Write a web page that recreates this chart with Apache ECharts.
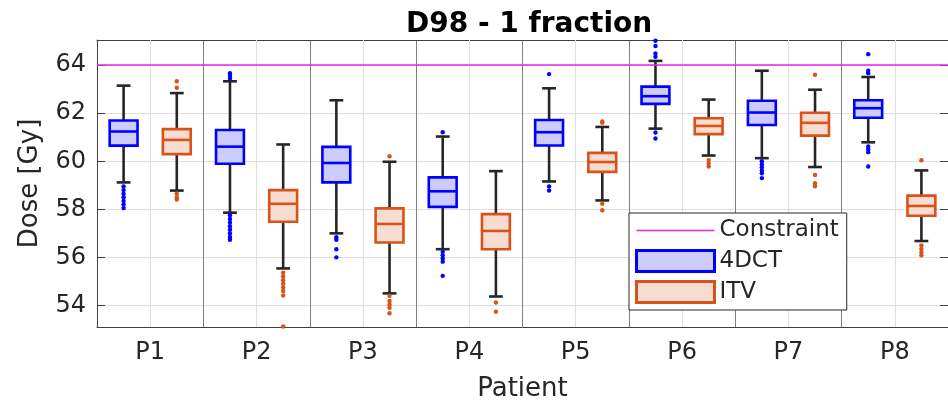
<!DOCTYPE html>
<html><head><meta charset="utf-8">
<script src="https://cdn.jsdelivr.net/npm/echarts@6/dist/echarts.min.js"></script>
<style>html,body{margin:0;padding:0;background:#fff}#c{width:948px;height:407px}</style>
</head><body><div id="c"></div>
<script>
// ---- data ----
const categories = ['P1','P2','P3','P4','P5','P6','P7','P8'];
const constraintDose = 64;

// 4DCT boxes
const ct4dLow  = [59.12, 57.86, 57.00, 56.34, 59.16, 61.36, 60.13, 60.79];
const ct4dQ1   = [60.65, 59.90, 59.12, 58.10, 60.66, 62.39, 61.51, 61.81];
const ct4dMed  = [61.24, 60.61, 59.93, 58.75, 61.21, 62.71, 62.03, 62.21];
const ct4dQ3   = [61.70, 61.30, 60.60, 59.33, 61.72, 63.11, 62.52, 62.54];
const ct4dHigh = [63.15, 63.33, 62.54, 61.03, 63.04, 64.18, 63.77, 63.51];
const ct4dOutliers = [
  [58.05, 58.2, 58.35, 58.5, 58.65, 58.8, 58.95],
  [63.67, 63.56, 63.45, 57.75, 57.6, 57.45, 57.3, 57.15, 57.0, 56.85, 56.73],
  [56.84, 56.73, 56.34, 56.0],
  [61.21, 56.23, 56.09, 55.95, 55.82, 55.23],
  [63.63, 58.95, 58.78],
  [65.02, 64.8, 64.49, 64.35, 61.2, 60.95],
  [60.0, 59.87, 59.75, 59.62, 59.5, 59.3],
  [64.46, 63.77, 63.67, 60.62, 60.5, 60.38, 59.78]
];

// ITV boxes
const itvLow  = [58.78, 55.54, 54.50, 54.37, 58.37, 60.24, 59.76, 56.68];
const itvQ1   = [60.30, 57.48, 56.62, 56.34, 59.56, 61.13, 61.07, 57.73];
const itvMed  = [60.89, 58.23, 57.39, 57.10, 59.97, 61.47, 61.60, 58.14];
const itvQ3   = [61.34, 58.80, 58.04, 57.80, 60.35, 61.79, 62.02, 58.57];
const itvHigh = [62.84, 60.70, 59.98, 59.59, 61.43, 62.57, 62.98, 59.62];
const itvOutliers = [
  [63.33, 63.06, 58.65, 58.5, 58.41],
  [55.36, 55.2, 55.05, 54.9, 54.75, 54.6, 54.41, 53.12],
  [60.21, 54.4, 54.18, 54.04, 53.9, 53.67],
  [54.12, 53.74],
  [61.66, 61.6, 58.23, 57.96],
  [60.05, 59.91, 59.78],
  [63.6, 59.43, 59.09, 58.96],
  [60.04, 56.5, 56.35, 56.2, 56.09]
];

// ---- styles ----
const FONT = 'DejaVu Sans';
const TXT = '#262626';
const BLUE = '#0000ff', BLUE_FILL = '#ccccff';
const ORANGE = '#d95319', ORANGE_FILL = '#f7ddd1';
const WHISKER = '#262626';
const MAGENTA = '#f020f0';

function boxData(low, q1, med, q3, high) {
  return categories.map((c, i) => [i, low[i], q1[i], med[i], q3[i], high[i]]);
}
function outlierData(list) {
  const out = [];
  list.forEach((arr, i) => arr.forEach(v => out.push([i, v])));
  return out;
}
function boxRender(side, stroke, fill) {
  return function (params, api) {
    const idx = api.value(0);
    const bw = api.size([1, 0])[0];
    const cx = api.coord([idx, api.value(3)])[0] + side * 0.25 * bw;
    const boxW = 0.262 * bw, capW = 0.13 * bw;
    const y = k => api.coord([idx, api.value(k)])[1];
    const yLow = y(1), yQ1 = y(2), yMed = y(3), yQ3 = y(4), yHigh = y(5);
    const ws = { stroke: WHISKER, lineWidth: 2.6 };
    return { type: 'group', children: [
      { type: 'line', shape: { x1: cx, y1: yQ3, x2: cx, y2: yHigh }, style: ws },
      { type: 'line', shape: { x1: cx, y1: yQ1, x2: cx, y2: yLow }, style: ws },
      { type: 'line', shape: { x1: cx - capW / 2, y1: yHigh, x2: cx + capW / 2, y2: yHigh }, style: ws },
      { type: 'line', shape: { x1: cx - capW / 2, y1: yLow, x2: cx + capW / 2, y2: yLow }, style: ws },
      { type: 'rect', shape: { x: cx - boxW / 2, y: yQ3, width: boxW, height: yQ1 - yQ3 }, style: { fill: fill, stroke: stroke, lineWidth: 2.6 } },
      { type: 'line', shape: { x1: cx - boxW / 2, y1: yMed, x2: cx + boxW / 2, y2: yMed }, style: { stroke: stroke, lineWidth: 2.6 } }
    ]};
  };
}
function outlierRender(side, color) {
  return function (params, api) {
    const idx = api.value(0);
    const bw = api.size([1, 0])[0];
    const p = api.coord([idx, api.value(1)]);
    return { type: 'circle', shape: { cx: p[0] + side * 0.25 * bw, cy: p[1], r: 2.2 }, style: { fill: color } };
  };
}

const yMin = 53.1, yMax = 65.05;
const chart = echarts.init(document.getElementById('c'));
chart.setOption({
  animation: false,
  backgroundColor: '#fff',
  title: { text: 'D98 - 1 fraction', left: 401, top: 6,
    textStyle: { fontFamily: FONT, fontSize: 28, fontWeight: 'bold', color: '#000' } },
  grid: { left: 97, top: 40, width: 855, height: 291 },
  legend: {
    orient: 'vertical', left: 629, top: 213, padding: [6, 8, 6, 6], itemGap: 7,
    itemWidth: 78, itemHeight: 21, borderColor: TXT, borderWidth: 1, backgroundColor: '#fff',
    textStyle: { fontFamily: FONT, fontSize: 23, color: TXT },
    data: [
      { name: 'Constraint', itemStyle: { opacity: 0 }, lineStyle: { color: MAGENTA, width: 1.5 } },
      { name: '4DCT', icon: 'rect', itemStyle: { color: BLUE_FILL, borderColor: BLUE, borderWidth: 3 } },
      { name: 'ITV', icon: 'rect', itemStyle: { color: ORANGE_FILL, borderColor: ORANGE, borderWidth: 3 } }
    ]
  },
  xAxis: [
    { type: 'category', data: categories, position: 'bottom', boundaryGap: true,
      name: 'Patient', nameLocation: 'middle', nameGap: 49,
      nameTextStyle: { fontFamily: FONT, fontSize: 26, color: TXT },
      axisLine: { show: true, lineStyle: { color: '#404040', width: 1 } },
      axisTick: { show: true, inside: true, alignWithLabel: true, length: 8, lineStyle: { color: '#404040' } },
      axisLabel: { fontFamily: FONT, fontSize: 24, color: TXT, margin: 14 },
      splitLine: { show: true, lineStyle: { color: '#808080', width: 1 } } },
    { type: 'category', data: categories, position: 'top', boundaryGap: true,
      axisLine: { show: true, lineStyle: { color: '#404040', width: 1 } },
      axisTick: { show: true, inside: true, alignWithLabel: true, length: 8, lineStyle: { color: '#404040' } },
      axisLabel: { show: false }, splitLine: { show: false } }
  ],
  yAxis: [
    { type: 'value', min: yMin, max: yMax, position: 'left',
      name: 'Dose [Gy]', nameLocation: 'middle', nameGap: 54,
      nameTextStyle: { fontFamily: FONT, fontSize: 26, color: TXT },
      axisLine: { show: true, lineStyle: { color: '#404040', width: 1 } },
      axisTick: { show: true, inside: true, length: 8, lineStyle: { color: '#404040' } },
      axisLabel: { fontFamily: FONT, fontSize: 24, color: TXT, margin: 11, showMinLabel: false, showMaxLabel: false },
      splitLine: { show: true, lineStyle: { color: '#dedede', width: 1 } } },
    { type: 'value', min: yMin, max: yMax, position: 'right',
      axisLine: { show: true, lineStyle: { color: '#404040', width: 1 } },
      axisTick: { show: true, inside: true, length: 8, lineStyle: { color: '#404040' } },
      axisLabel: { show: false }, splitLine: { show: false } }
  ],
  series: [
    { name: 'grid', type: 'custom', xAxisIndex: 0, yAxisIndex: 0, data: [], renderItem: () => null, z: 1,
      markLine: { silent: true, symbol: 'none', label: { show: false }, z: 1,
        lineStyle: { color: '#dedede', width: 1, type: 'solid' },
        data: categories.map((c, i) => ({ xAxis: i })) } },
    { name: 'Constraint', type: 'line', data: [], symbol: 'none', xAxisIndex: 0, yAxisIndex: 0,
      lineStyle: { color: MAGENTA, width: 1.5 }, itemStyle: { color: MAGENTA },
      markLine: { silent: true, symbol: 'none', label: { show: false },
        lineStyle: { color: MAGENTA, width: 1.5, type: 'solid', opacity: 1 },
        emphasis: { disabled: true },
        data: [{ yAxis: constraintDose }] } },
    { name: '4DCT', type: 'custom', xAxisIndex: 0, yAxisIndex: 0, itemStyle: { color: BLUE },
      renderItem: boxRender(-1, BLUE, BLUE_FILL), data: boxData(ct4dLow, ct4dQ1, ct4dMed, ct4dQ3, ct4dHigh), z: 3 },
    { name: 'ITV', type: 'custom', xAxisIndex: 0, yAxisIndex: 0, itemStyle: { color: ORANGE },
      renderItem: boxRender(1, ORANGE, ORANGE_FILL), data: boxData(itvLow, itvQ1, itvMed, itvQ3, itvHigh), z: 3 },
    { name: '4DCT', type: 'custom', xAxisIndex: 0, yAxisIndex: 0,
      renderItem: outlierRender(-1, BLUE), data: outlierData(ct4dOutliers), z: 3 },
    { name: 'ITV', type: 'custom', xAxisIndex: 0, yAxisIndex: 0,
      renderItem: outlierRender(1, ORANGE), data: outlierData(itvOutliers), z: 3 }
  ]
});
</script></body></html>
